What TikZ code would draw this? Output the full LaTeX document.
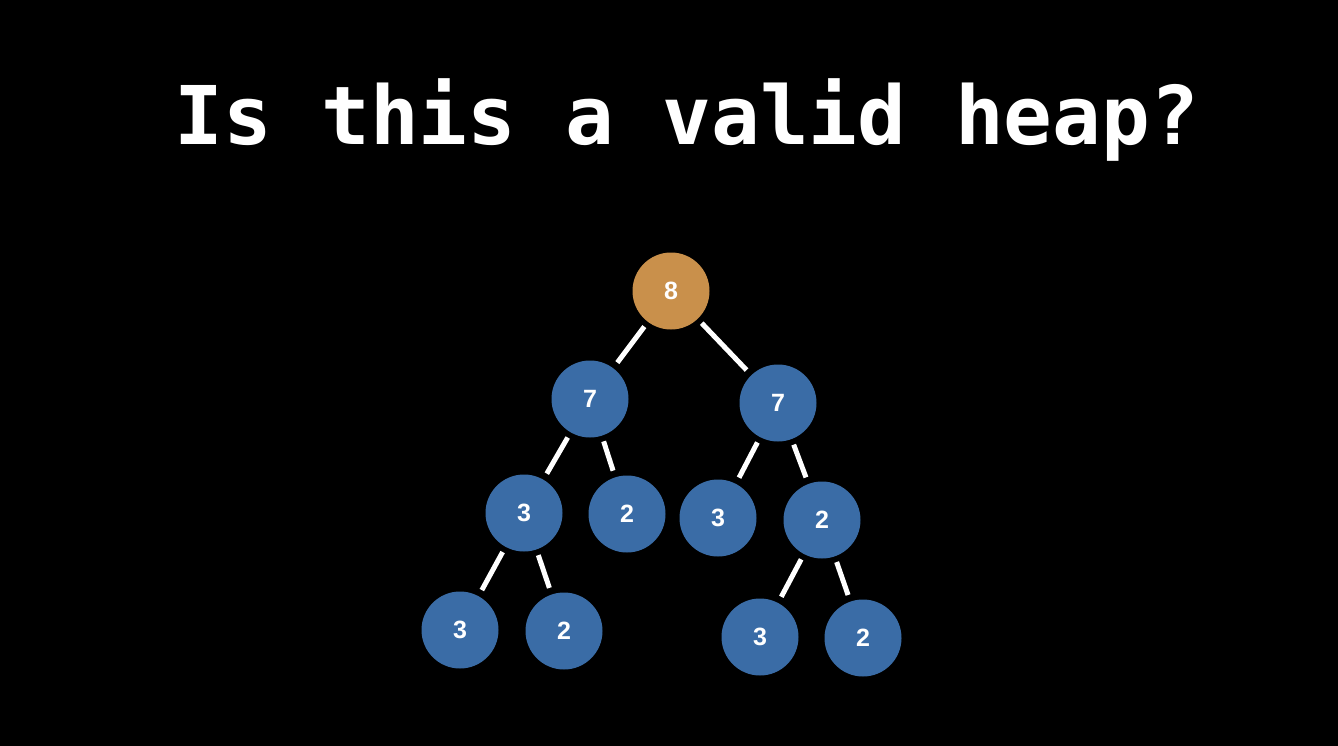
\documentclass[tikz,border=0pt]{standalone}
\usepackage{fontspec}
\newfontfamily\titlefont{DejaVu Sans Mono}
\newfontfamily\nodefont{Liberation Sans}
\definecolor{heapblue}{HTML}{3A6CA6}
\definecolor{heaporange}{HTML}{C9904B}
\begin{document}
\begin{tikzpicture}[x=1pt,y=-1pt,
  hnode/.style={circle,fill=heapblue,minimum size=77pt,inner sep=0pt,outer sep=0pt,
    text=white,font=\nodefont\bfseries\fontsize{25}{25}\selectfont},
  rootnode/.style={hnode,fill=heaporange},
  edge/.style={draw=white,line width=5pt,shorten >=7pt,shorten <=6pt}]
\fill[black] (0,0) rectangle (1338,746);
\useasboundingbox (0,0) rectangle (1338,746);
\node[text=white,font=\titlefont\bfseries\fontsize{81}{81}\selectfont,anchor=base] (title) at (687,145) {Is this a valid heap?};
\node[rootnode] (r) at (671,291) {8};
\node[hnode] (a) at (590,399) {7};
\node[hnode] (b) at (778,403) {7};
\node[hnode] (aa) at (524,513) {3};
\node[hnode] (ab) at (627,514) {2};
\node[hnode] (ba) at (718,518) {3};
\node[hnode] (bb) at (822,520) {2};
\node[hnode] (aaa) at (460,630) {3};
\node[hnode] (aab) at (564,631) {2};
\node[hnode] (bba) at (760,637) {3};
\node[hnode] (bbb) at (863,638) {2};
\draw[edge] (r) -- (a);
\draw[edge] (r) -- (b);
\draw[edge] (a) -- (aa);
\draw[edge] (a) -- (ab);
\draw[edge] (b) -- (ba);
\draw[edge] (b) -- (bb);
\draw[edge] (aa) -- (aaa);
\draw[edge] (aa) -- (aab);
\draw[edge] (bb) -- (bba);
\draw[edge] (bb) -- (bbb);
\end{tikzpicture}
\end{document}
